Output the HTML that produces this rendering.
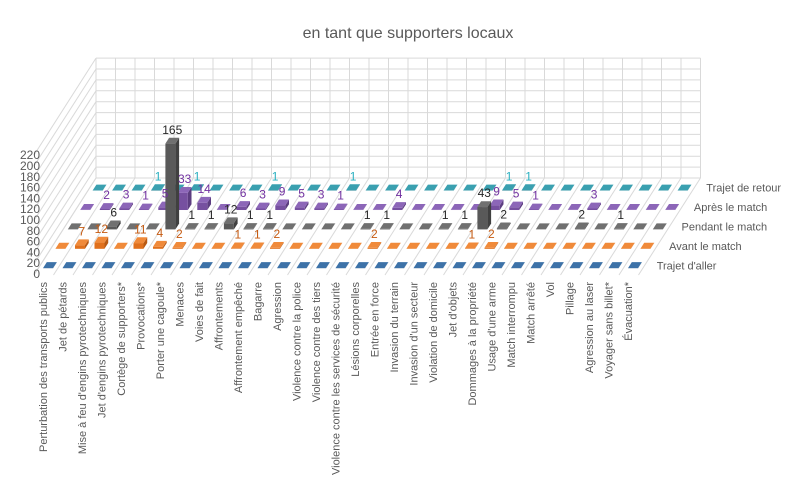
<!DOCTYPE html>
<html><head><meta charset="utf-8"><style>
body{margin:0;background:#fff;}
svg{display:block;font-family:"Liberation Sans",sans-serif;}
</style></head><body>
<svg id="chart" width="800" height="487" viewBox="0 0 800 487">
<text x="408" y="38" text-anchor="middle" font-size="16" fill="#595959">en tant que supporters locaux</text>
<g id="grid"></g>
<g id="yaxis"></g>
<g id="bars"></g>
<g id="labels"></g>
<g id="xaxis"></g>
<g id="legend"></g>
</svg>
<script>
const categories = ["Perturbation des transports publics","Jet de pétards","Mise à feu d'engins pyrotechniques","Jet d'engins pyrotechniques","Cortège de supporters*","Provocations*","Porter une cagoule*","Menaces","Voies de fait","Affrontements","Affrontement empêché","Bagarre","Agression","Violence contre la police","Violence contre des tiers","Violence contre les services de sécurité","Lésions corporelles","Entrée en force","Invasion du terrain","Invasion d'un secteur","Violation de domicile","Jet d'objets","Dommages à la propriété","Usage d'une arme","Match interrompu","Match arrêté","Vol","Pillage","Agression au laser","Voyager sans billet*","Évacuation*"];
const seriesNames = ["Trajet d'aller","Avant le match","Pendant le match","Après le match","Trajet de retour"];
const allerValues   = [0,0,0,0,0,0,0,0,0,0,0,0,0,0,0,0,0,0,0,0,0,0,0,0,0,0,0,0,0,0,0];
const avantValues   = [0,7,12,0,11,4,2,0,0,1,1,2,0,0,0,0,2,0,0,0,0,1,2,0,0,0,0,0,0,0,0];
const pendantValues = [0,0,6,0,0,165,1,1,12,1,1,0,0,0,0,1,1,0,0,1,1,43,2,0,0,0,2,0,1,0,0];
const apresValues   = [0,2,3,1,5,33,14,0,6,3,9,5,3,1,0,0,4,0,0,0,0,9,5,1,0,0,3,0,0,0,0];
const retourValues  = [0,0,0,1,0,1,0,0,0,1,0,0,0,1,0,0,0,0,0,0,0,1,1,0,0,0,0,0,0,0,0];
const yTicks = [0,20,40,60,80,100,120,140,160,180,200,220];

const series=[allerValues,avantValues,pendantValues,apresValues,retourValues];
const faceCol=["#2f5f8f","#e0701c","#595959","#7650a0","#2a8494"];
const topCol =["#3d72a8","#f08a3a","#707070","#8c66b8","#3aa0b0"];
const sideCol=["#24496e","#b85a14","#404040","#5c3d80","#1f6674"];
const labCol =["#2f5f8f","#c55a11","#262626","#7030a0","#2ab0c0"];
const NS="http://www.w3.org/2000/svg";
const WX=96, WY=178, COLW=19.5, DX=62, DY=97, UNIT=0.52, NC=categories.length;
function px(X,Z){return WX+X-Z*DX;}
function py(Z,v){return WY+Z*DY-v*UNIT;}
function mk(tag,attrs,parent){const e=document.createElementNS(NS,tag);for(const k in attrs)e.setAttribute(k,attrs[k]);parent.appendChild(e);return e;}
const grid=document.getElementById('grid');
// back wall
for(let i=0;i<=11;i++){const y=WY-i*10.9;
 const l=mk('line',{x1:WX,y1:y,x2:WX+NC*COLW,y2:y,stroke:"#d9d9d9","stroke-width":1},grid);
 
 
 const s=mk('line',{x1:WX,y1:y,x2:WX-DX,y2:y+DY,stroke:"#d9d9d9","stroke-width":1},grid);
 
 }
for(let k=0;k<=NC;k++){const x=WX+k*COLW;
 const l=mk('line',{x1:x,y1:WY,x2:x,y2:WY-11*10.9,stroke:"#d9d9d9","stroke-width":1},grid);
 
 
 const f=mk('line',{x1:x,y1:WY,x2:x-DX,y2:WY+DY,stroke:"#d9d9d9","stroke-width":1},grid);
 
 }
// y axis
const ya=document.getElementById('yaxis');
yTicks.forEach((t,i)=>{const e=mk('text',{x:40,y:278-i*10.8,"text-anchor":"end","font-size":12,fill:"#595959"},ya);e.textContent=t;
 
 });
// bars
const bg=document.getElementById('bars'), lg=document.getElementById('labels');
const HW=5, HZ=0.03;
for(let r=4;r>=0;r--){
 const Zc=(5-r-0.5)/5, Zf=Zc+HZ, Zb=Zc-HZ;
 series[r].forEach((v,c)=>{
  const Xc=COLW*(c+0.5), h=Math.max(v,0.4);
  const g=mk('g',{},bg);
  
  
  const fl=px(Xc-HW,Zf), fr=px(Xc+HW,Zf), yb=py(Zf,0), yt=py(Zf,h);
  const bl=px(Xc-HW,Zb), br=px(Xc+HW,Zb), ybt=py(Zb,h), ybb=py(Zb,0);
  mk('polygon',{points:`${fr},${yb} ${br},${ybb} ${br},${ybt} ${fr},${yt}`,fill:sideCol[r]},g);
  mk('rect',{x:fl,y:yt,width:fr-fl,height:yb-yt,fill:faceCol[r]},g);
  mk('polygon',{points:`${fl},${yt} ${fr},${yt} ${br},${ybt} ${bl},${ybt}`,fill:topCol[r]},g);
  if(v>0){const t=mk('text',{x:(fl+br)/2,y:ybt-4,"text-anchor":"middle","font-size":12,fill:labCol[r]},lg);t.textContent=v;
   
   }
 });
 const lt=mk('text',{x:px(NC*COLW,Zc)+12,y:py(Zc,0)+4,"font-size":11,fill:"#595959"},document.getElementById('legend'));
 lt.textContent=seriesNames[r];
 
 
}
// x axis
const xa=document.getElementById('xaxis');
categories.forEach((cName,c)=>{const x=47+c*19.5, y=282;
 const t=mk('text',{x:x,y:y,"text-anchor":"end","font-size":11,fill:"#595959",transform:`rotate(-90 ${x} ${y})`},xa);
 t.textContent=cName;
 
 });
</script>
</body></html>
